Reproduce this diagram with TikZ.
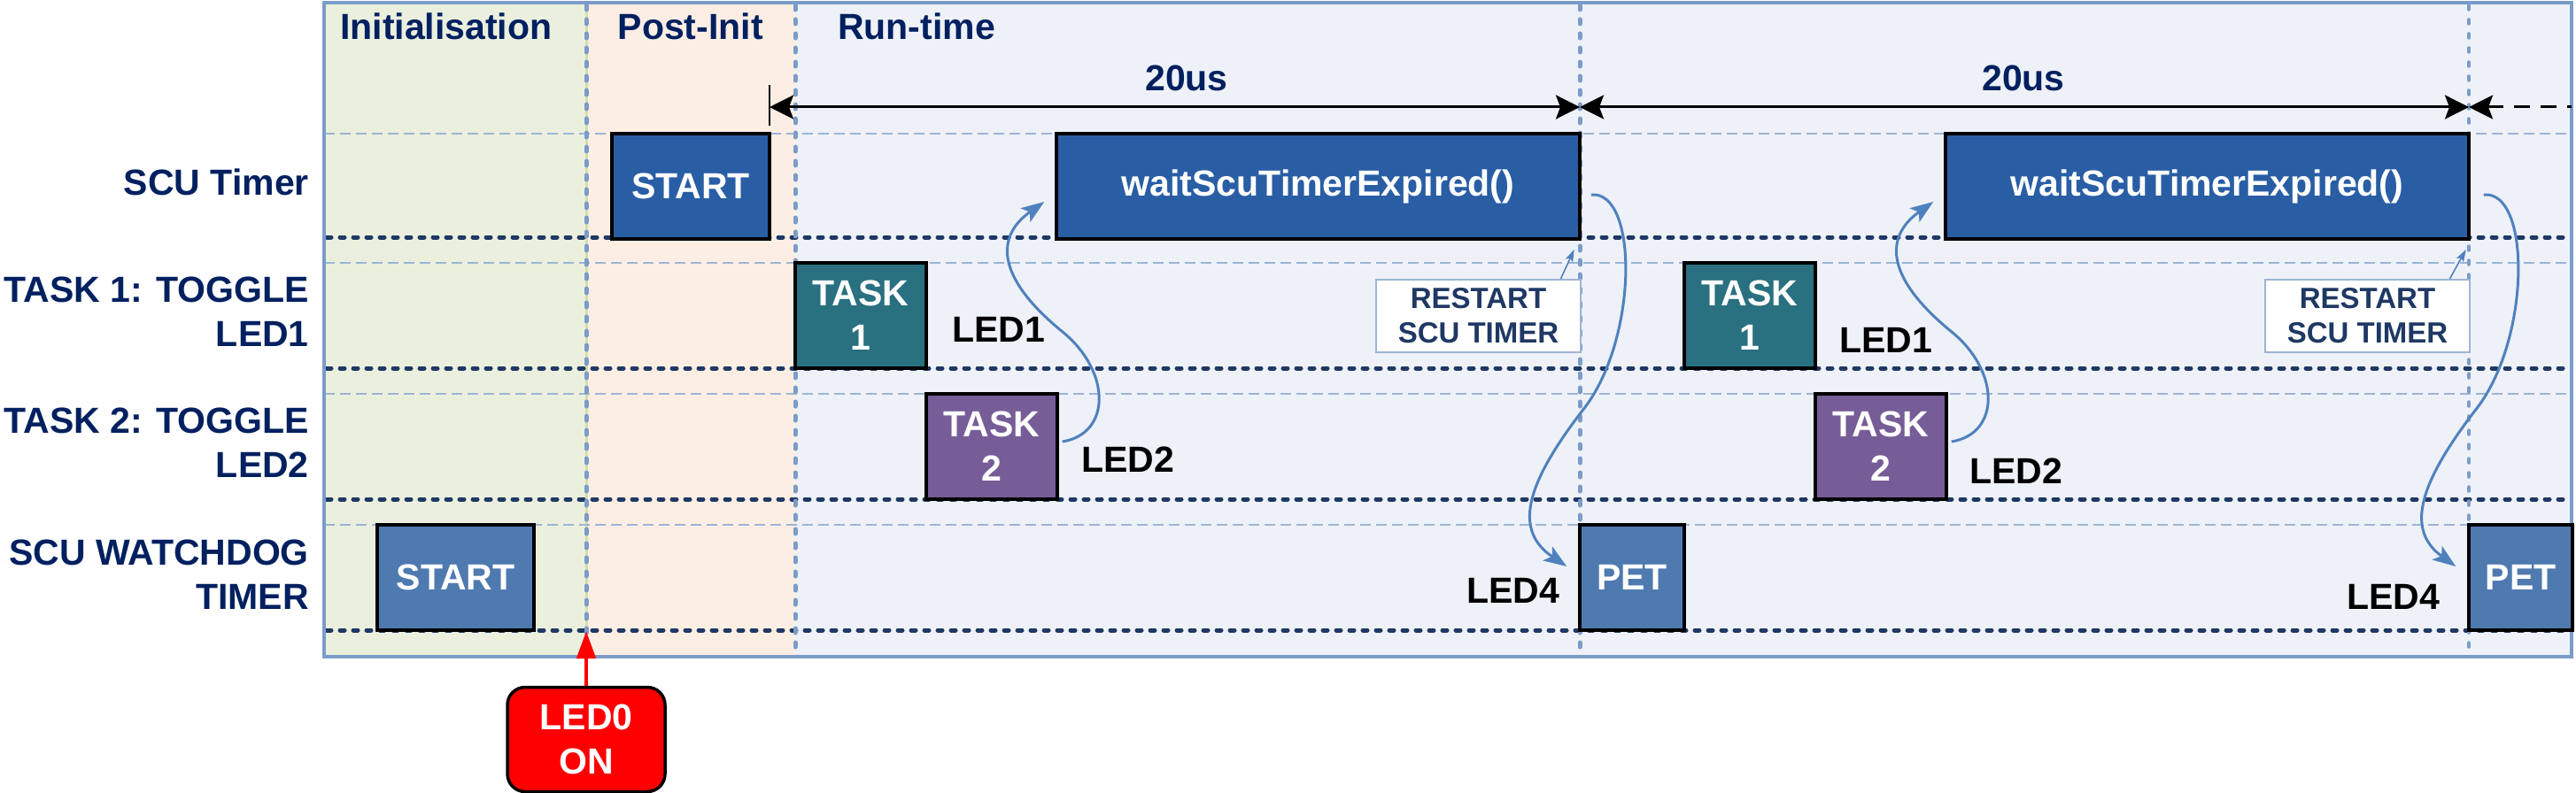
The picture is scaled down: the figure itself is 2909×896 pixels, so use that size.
\documentclass[tikz,border=0pt]{standalone}
\usepackage{fontspec}
\setmainfont{Liberation Sans}
\usetikzlibrary{arrows.meta,calc}
\definecolor{scuc}{RGB}{41,94,165}
\definecolor{taskA}{RGB}{41,112,128}
\definecolor{taskB}{RGB}{119,93,151}
\definecolor{wdc}{RGB}{79,122,176}
\definecolor{bginit}{RGB}{235,240,222}
\definecolor{bgpost}{RGB}{253,238,228}
\definecolor{bgrun}{RGB}{238,241,247}
\definecolor{initedge}{RGB}{210,222,170}
\definecolor{framec}{RGB}{123,156,201}
\definecolor{lightdash}{RGB}{157,180,214}
\definecolor{navyc}{RGB}{31,56,100}
\definecolor{headc}{RGB}{0,32,96}
\definecolor{curvec}{RGB}{79,129,189}
\definecolor{ledred}{RGB}{255,0,0}
\begin{document}
\begin{tikzpicture}[x=1pt,y=-1pt,
  big/.style={font=\fontsize{41}{50}\selectfont\bfseries},
  small/.style={font=\fontsize{33}{39}\selectfont\bfseries},
  box/.style={draw=black,line width=3.5pt,inner sep=0pt,text=white,align=center,big},
  rowbox/.style={box,minimum height=119pt},
  restartbox/.style={draw=lightdash,line width=2pt,fill=white,inner sep=0pt,align=center,small,text=navyc,
     minimum width=231pt,minimum height=82pt},
  head/.style={big,text=headc,inner sep=0pt},
  rowlab/.style={big,text=headc,inner sep=0pt,align=right},
  ledlab/.style={big,text=black,inner sep=0pt,anchor=base west},
  lightline/.style={draw=lightdash,line width=2pt,dash pattern=on 12pt off 6pt},
  dotline/.style={draw=navyc,line width=5pt,line cap=round,dash pattern=on 5pt off 10pt},
  vline/.style={draw=framec,line width=5pt,line cap=round,dash pattern=on 5pt off 11pt},
  dim/.style={draw=black,line width=3pt},
  ledarrow/.style={draw=curvec,line width=3pt,-{Stealth[length=26pt,width=19pt,inset=6pt]}},
  thinarrow/.style={draw=curvec,line width=1.6pt,-{Stealth[length=14pt,width=9pt,inset=3pt]}}
]
\useasboundingbox (0,0) rectangle (2909,896);
% backgrounds
\fill[bginit] (366,3) rectangle (662,742);
\fill[bgpost] (662,3) rectangle (898,742);
\fill[bgrun] (898,3) rectangle (2904,742);
\draw[initedge,line width=3pt] (662,3) -- (662,742);
% light dashed row lines
\foreach \y in {151,297,445,593} \draw[lightline] (366,\y) -- (2904,\y);
% thick dotted row lines
\foreach \y in {268,416,564,712} \draw[dotline] (369,\y) -- (2902,\y);
% vertical phase lines
\foreach \x in {662,898,1784} \draw[vline] (\x,6) -- (\x,739);
\draw[vline,line width=3.5pt] (2788,6) -- (2788,739);
% frame
\draw[framec,line width=4.5pt] (366,3) rectangle (2904,742);

% headers
\node[head,anchor=base west] (hinit) at (384,45) {Initialisation};
\node[head,anchor=base west] (hpost) at (697.5,45) {Post-Init};
\node[head,anchor=base west] (hrun) at (946,45) {Run-time};

% row labels
\node[rowlab,anchor=base east] (r1) at (349,221) {SCU Timer};
\node[rowlab,anchor=north east] (r2) at (349,313) {TASK 1: TOGGLE\\LED1};
\node[rowlab,anchor=north east] (r3) at (349,461) {TASK 2: TOGGLE\\LED2};
\node[rowlab,anchor=north east] (r4) at (349,610) {SCU WATCHDOG\\TIMER};

% dimension arrows
\coordinate (tk1) at (869,96);
\coordinate (tk2) at (869,142);
\coordinate (d0) at (869,121);
\coordinate (d1) at (1784,121);
\coordinate (d2) at (2788,121);
\coordinate (d3) at (2904,121);
\draw[black,line width=1.5pt] (tk1) -- (tk2);
\draw[dim,{Stealth[length=27pt,width=27pt,inset=5pt]}-{Stealth[length=27pt,width=27pt,inset=5pt]}] (d0) -- (d1);
\draw[dim,{Stealth[length=27pt,width=27pt,inset=5pt]}-{Stealth[length=27pt,width=27pt,inset=5pt]}] (d1) -- (d2);
\draw[dim,dash pattern=on 18pt off 12pt,{Stealth[length=27pt,width=27pt,inset=5pt]}-] (d2) -- (d3);
\node[head,anchor=base] (us1) at (1340,103) {20us};
\node[head,anchor=base] (us2) at (2285,103) {20us};

% SCU timer row
\node[rowbox,fill=scuc,minimum width=178pt] (startT) at (780,210.5) {START};
\node[rowbox,fill=scuc,minimum width=591pt] (wait1) at (1488.5,210.5) {waitScuTimerExpired()};
\node[rowbox,fill=scuc,minimum width=591pt] (wait2) at (2492.5,210.5) {waitScuTimerExpired()};

% task 1 row
\node[rowbox,fill=taskA,minimum width=148pt] (task1a) at (972,356.5) {TASK\\1};
\node[rowbox,fill=taskA,minimum width=148pt] (task1b) at (1976,356.5) {TASK\\1};
\node[ledlab] (led1a) at (1075,386) {LED1};
\node[ledlab] (led1b) at (2077,398) {LED1};
\node[restartbox] (rs1) at (1669.5,357) {RESTART\\SCU TIMER};
\node[restartbox] (rs2) at (2673.5,357) {RESTART\\SCU TIMER};

% task 2 row
\node[rowbox,fill=taskB,minimum width=148pt] (task2a) at (1120,504.5) {TASK\\2};
\node[rowbox,fill=taskB,minimum width=148pt] (task2b) at (2124,504.5) {TASK\\2};
\node[ledlab] (led2a) at (1221,533) {LED2};
\node[ledlab] (led2b) at (2224,546) {LED2};

% watchdog row
\node[rowbox,fill=wdc,minimum width=177pt] (startW) at (514.5,652.5) {START};
\node[rowbox,fill=wdc,minimum width=118pt] (pet1) at (1843,652.5) {PET};
\node[rowbox,fill=wdc,minimum width=117pt] (pet2) at (2846.5,652.5) {PET};
\node[ledlab] (led4a) at (1656,681) {LED4};
\node[ledlab] (led4b) at (2650,688) {LED4};

% LED0 ON
\node[box,fill=ledred,rounded corners=20pt,minimum width=178pt,minimum height=118pt] (led0) at (662,835.5) {LED0\\ON};
\coordinate (initend) at (662,713);
\draw[ledred,line width=4.7pt,-{Triangle[length=31pt,width=21pt]}] (led0.north) -- (initend);

% curves task2 -> wait
\draw[ledarrow] ([xshift=4pt,yshift=5.5pt]task2a.east) .. controls (1255,490) and (1255,420) .. (1200,375)
   .. controls (1130,318) and (1120,270) .. ([xshift=-12pt,yshift=-17.5pt]wait1.west);
\draw[ledarrow] ([xshift=4pt,yshift=5.5pt]task2b.east) .. controls (2259,490) and (2259,420) .. (2204,375)
   .. controls (2134,318) and (2124,270) .. ([xshift=-12pt,yshift=-17.5pt]wait2.west);
% curves wait -> pet
\draw[ledarrow] ([xshift=11pt,yshift=-9.5pt]wait1.east) .. controls (1850,215) and (1850,380) .. (1790,460)
   .. controls (1720,550) and (1710,600) .. ([xshift=-13pt,yshift=12.5pt]pet1.west);
\draw[ledarrow] ([xshift=15pt,yshift=-9.5pt]wait2.east) .. controls (2858,215) and (2858,380) .. (2798,460)
   .. controls (2728,550) and (2718,600) .. ([xshift=-13pt,yshift=12.5pt]pet2.west);
% restart arrows
\draw[thinarrow] ([xshift=93pt]rs1.north) -- ([xshift=-8pt,yshift=-10pt]wait1.south east);
\draw[thinarrow] ([xshift=93pt]rs2.north) -- ([xshift=-5pt,yshift=-10pt]wait2.south east);
\end{tikzpicture}
\end{document}
